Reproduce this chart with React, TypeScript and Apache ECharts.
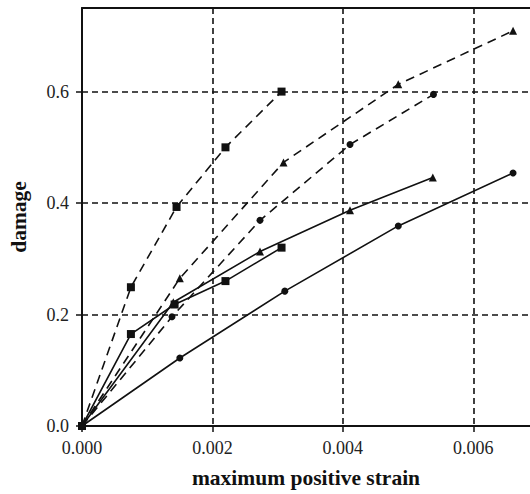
import React, { useEffect, useRef } from "react";
import * as echarts from "echarts";

// strain values (x) and damage values (y) for each series
const dashSquareX = [0, 0.00075, 0.00145, 0.0022, 0.00306];
const dashSquareY = [0, 0.249, 0.393, 0.5, 0.6];
const dashTriX = [0, 0.0015, 0.00309, 0.00485, 0.00661];
const dashTriY = [0, 0.265, 0.473, 0.613, 0.709];
const dashCircleX = [0, 0.00138, 0.00273, 0.00411, 0.00539];
const dashCircleY = [0, 0.196, 0.369, 0.505, 0.595];
const solidSquareX = [0, 0.00075, 0.00142, 0.0022, 0.00306];
const solidSquareY = [0, 0.165, 0.218, 0.26, 0.32];
const solidTriX = [0, 0.0014, 0.00273, 0.00411, 0.00538];
const solidTriY = [0, 0.222, 0.313, 0.387, 0.446];
const solidCircleX = [0, 0.0015, 0.00311, 0.00485, 0.00661];
const solidCircleY = [0, 0.122, 0.242, 0.359, 0.454];

const xTickLabels = ["0.000", "0.002", "0.004", "0.006"];
const yTickLabels = ["0.0", "0.2", "0.4", "0.6"];

const FONT = "'Liberation Serif', 'Times New Roman', serif";

function zip(xs: number[], ys: number[]) {
  return xs.map((x, i) => [x, ys[i]]);
}

export default function App() {
  const ref = useRef<HTMLDivElement>(null);
  useEffect(() => {
    if (!ref.current) return;
    const chart = echarts.init(ref.current, undefined, { renderer: "svg" });
    const mk = (
      name: string,
      xs: number[],
      ys: number[],
      symbol: string,
      size: number,
      dashed: boolean
    ) => ({
      name,
      type: "line",
      xAxisIndex: 0,
      data: zip(xs, ys),
      symbol,
      symbolSize: size,
      showAllSymbol: true,
      itemStyle: { color: "#111" },
      lineStyle: {
        color: "#111",
        width: 1.6,
        type: dashed ? [9, 6] : "solid",
      },
      z: 3,
    });
    chart.setOption({
      animation: false,
      backgroundColor: "#fff",
      grid: {
        left: 82,
        top: 8,
        right: 0,
        bottom: 60,
        show: false,
      },
      xAxis: [
        {
          type: "value",
          min: 0,
          max: 0.00687,
          interval: 0.002,
          name: "maximum positive strain",
          nameLocation: "middle",
          nameGap: 41,
          nameTextStyle: {
            fontFamily: FONT,
            fontWeight: "bold",
            fontSize: 21.5,
            color: "#111",
          },
          axisLine: { show: true, lineStyle: { color: "#111", width: 2 } },
          axisTick: { show: true, inside: false, length: 6, lineStyle: { color: "#111", width: 1.5 } },
          axisLabel: {
            showMaxLabel: false,
            margin: 13,
            fontFamily: FONT,
            fontSize: 18,
            color: "#222",
            formatter: (v: number) => {
              const i = Math.round(v / 0.002);
              return Math.abs(v - i * 0.002) < 1e-9 && xTickLabels[i] ? xTickLabels[i] : "";
            },
          },
          splitLine: {
            show: true,
            showMaxLine: false,
            lineStyle: { color: "#111", width: 1.6, type: [6, 4] },
          },
        },
        {
          type: "value",
          position: "top",
          min: 0,
          max: 0.00687,
          axisLine: { show: true, lineStyle: { color: "#111", width: 2 } },
          axisTick: { show: false },
          axisLabel: { show: false },
          splitLine: { show: false },
        },
      ],
      yAxis: {
        type: "value",
        min: 0,
        max: 0.75,
        interval: 0.2,
        name: "damage",
        nameLocation: "middle",
        nameGap: 52,
        nameTextStyle: {
          fontFamily: FONT,
          fontWeight: "bold",
          fontSize: 21.5,
          color: "#111",
        },
        axisLine: { show: true, lineStyle: { color: "#111", width: 2 } },
        axisTick: { show: true, inside: false, length: 6, lineStyle: { color: "#111", width: 1.5 } },
        axisLabel: {
          showMaxLabel: false,
          margin: 13,
          fontFamily: FONT,
          fontSize: 18,
          color: "#222",
          formatter: (v: number) => {
            const i = Math.round(v / 0.2);
            return Math.abs(v - i * 0.2) < 1e-9 && yTickLabels[i] ? yTickLabels[i] : "";
          },
        },
        splitLine: {
          show: true,
          showMaxLine: false,
          lineStyle: { color: "#111", width: 1.6, type: [6, 4] },
        },
      },
      series: [
        mk("dashSquare", dashSquareX, dashSquareY, "rect", 8, true),
        mk("dashTri", dashTriX, dashTriY, "triangle", 8, true),
        mk("dashCircle", dashCircleX, dashCircleY, "circle", 7, true),
        mk("solidSquare", solidSquareX, solidSquareY, "rect", 8, false),
        mk("solidTri", solidTriX, solidTriY, "triangle", 8, false),
        mk("solidCircle", solidCircleX, solidCircleY, "circle", 7, false),
      ],
    });
    return () => chart.dispose();
  }, []);
  return (
    <div
      ref={ref}
      style={{ position: "fixed", left: 0, top: 0, width: 530, height: 494 }}
    />
  );
}
